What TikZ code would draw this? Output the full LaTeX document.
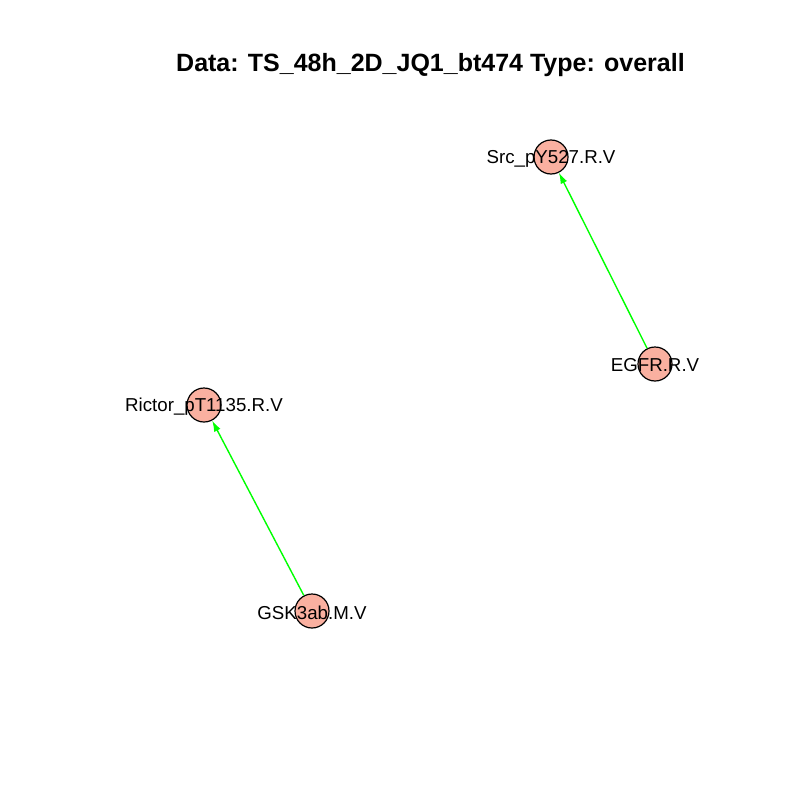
\documentclass[tikz,border=0pt]{standalone}
\usepackage{fontspec}
\setmainfont{Liberation Sans}
\usetikzlibrary{arrows.meta}
\begin{document}
\begin{tikzpicture}[x=1pt,y=-1pt,
  vert/.style={circle,draw=black,line width=1.2pt,fill={rgb,255:red,250;green,176;blue,160},minimum size=34pt,inner sep=0pt},
  vlabel/.style={inner sep=0pt,font=\fontsize{18.7}{20}\selectfont,text=black,yshift=-1.5pt},
  edge/.style={draw={rgb,255:red,0;green,255;blue,0},line width=1.4pt,-{Latex[length=11pt,width=7pt]}},
  ttl/.style={inner sep=0pt,font=\fontsize{25}{28}\bfseries\selectfont}]
\useasboundingbox (0,0) rectangle (800,800);
\node[ttl] (title) at (430.5,65) {Data: TS\_48h\_2D\_JQ1\_bt474 Type: overall};
\node[vert] (src) at (551,157) {};
\node[vert] (egfr) at (655,364) {};
\node[vert] (rictor) at (204,405) {};
\node[vert] (gsk) at (312,611) {};
\draw[edge] (egfr) -- (src);
\draw[edge] (gsk) -- (rictor);
\node[vlabel] (lsrc) at (src.center) {Src\_pY527.R.V};
\node[vlabel] (legfr) at (egfr.center) {EGFR.R.V};
\node[vlabel] (lrictor) at (rictor.center) {Rictor\_pT1135.R.V};
\node[vlabel] (lgsk) at (gsk.center) {GSK3ab.M.V};
\end{tikzpicture}
\end{document}
